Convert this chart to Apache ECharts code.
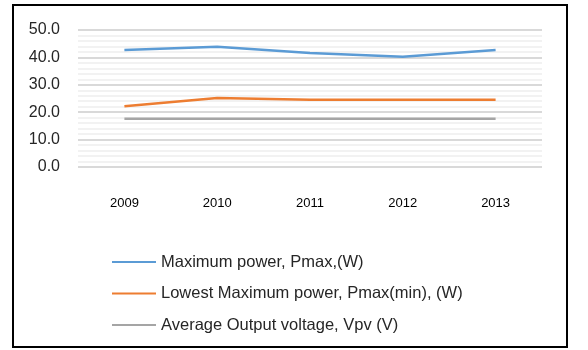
<!DOCTYPE html>
<html>
<head>
<meta charset="utf-8">
<script src="https://cdn.jsdelivr.net/npm/echarts@6/dist/echarts.min.js"></script>
<style>
  html, body { margin: 0; padding: 0; background: #fff; }
  #chart { width: 588px; height: 350px; }
</style>
</head>
<body>
<div id="chart"></div>
<script>
// years on the x axis
var years = ["2009", "2010", "2011", "2012", "2013"];

// series values
var maxPower = [42.7, 43.9, 41.6, 40.2, 42.7];
var lowestMaxPower = [22.2, 25.2, 24.5, 24.5, 24.5];
var avgVoltage = [17.6, 17.6, 17.6, 17.6, 17.6];

var seriesNames = [
  "Maximum power, Pmax,(W)",
  "Lowest Maximum power, Pmax(min), (W)",
  "Average Output voltage, Vpv (V)"
];

var fontFam = "'Liberation Sans', Arial, sans-serif";

var chartDom = document.getElementById("chart");
var myChart = echarts.init(chartDom);

function lineSeries(name, data, color) {
  return {
    name: name,
    type: "line",
    data: data,
    symbol: "none",
    smooth: false,
    lineStyle: { color: color, width: 2.5 },
    itemStyle: { color: color },
  };
}

var option = {
  animation: false,
  color: ["#5B9BD5", "#ED7D31", "#A5A5A5"],
  grid: {
    left: 78,
    right: 46,
    top: 30,
    bottom: 183,
    containLabel: false,
  },
  graphic: [
    {
      type: "rect",
      shape: { x: 13, y: 5, width: 554, height: 342 },
      style: { fill: "none", stroke: "#000", lineWidth: 2 },
      silent: true,
    },
  ],
  legend: {
    orient: "vertical",
    left: 112,
    top: 252,
    padding: 0,
    itemWidth: 44,
    itemHeight: 2,
    itemGap: 11.5,
    icon: "rect",
    data: seriesNames,
    textStyle: {
      fontFamily: fontFam,
      fontSize: 16.5,
      color: "#262626",
      lineHeight: 20,
    },
  },
  xAxis: {
    type: "category",
    data: years,
    boundaryGap: true,
    axisLine: { show: false },
    axisTick: { show: false },
    axisLabel: {
      margin: 30,
      fontFamily: fontFam,
      fontSize: 13,
      color: "#000",
    },
  },
  yAxis: {
    type: "value",
    min: 0,
    max: 50,
    interval: 10,
    axisLine: { show: false },
    axisTick: { show: false },
    axisLabel: {
      margin: 18,
      fontFamily: fontFam,
      fontSize: 16,
      color: "#262626",
      formatter: function (v) {
        return v.toFixed(1);
      },
    },
    splitLine: { show: true, lineStyle: { color: "#d9d9d9", width: 2 } },
    minorTick: { show: false, splitNumber: 5 },
    minorSplitLine: { show: true, lineStyle: { color: "#f2f2f2", width: 2 } },
  },
  series: [
    lineSeries(seriesNames[0], maxPower, "#5B9BD5"),
    lineSeries(seriesNames[1], lowestMaxPower, "#ED7D31"),
    lineSeries(seriesNames[2], avgVoltage, "#A5A5A5"),
  ],
};

myChart.setOption(option);
</script>
</body>
</html>
